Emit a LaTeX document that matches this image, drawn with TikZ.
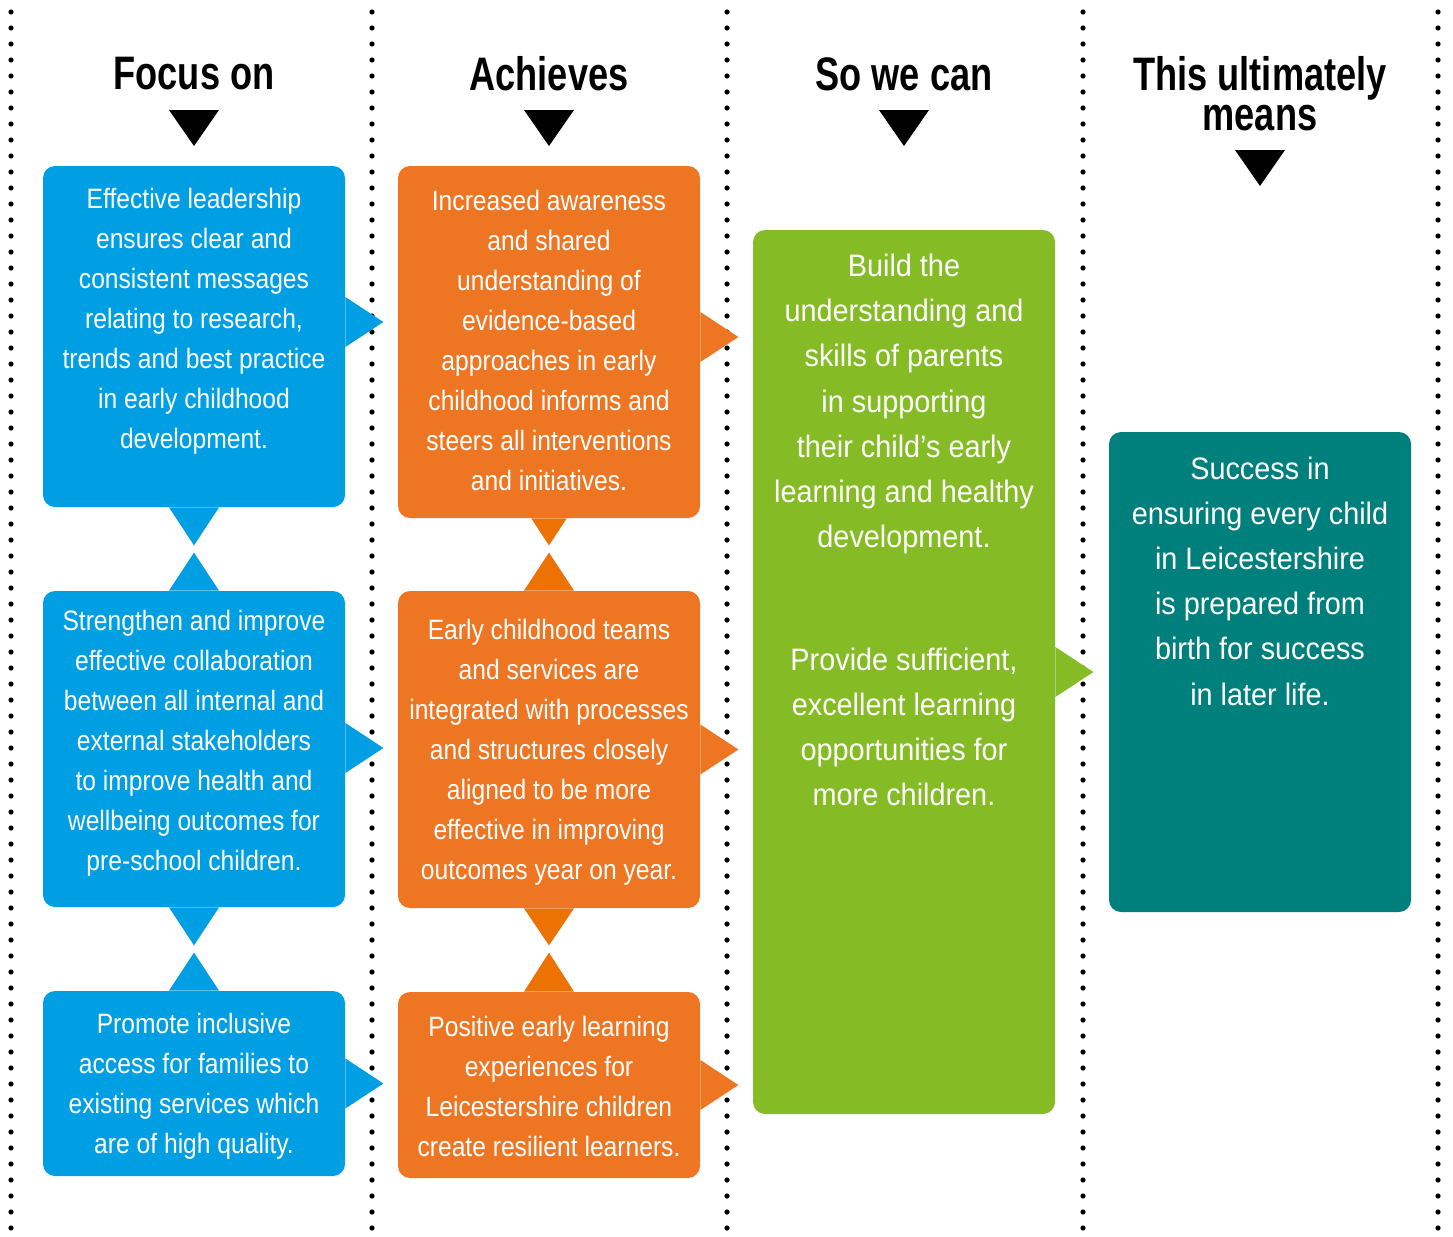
\documentclass[tikz,border=0pt]{standalone}
\usepackage{fontspec}
\setmainfont{Liberation Sans}[FakeStretch=0.88]
\newfontfamily\bigfont{Liberation Sans}[FakeStretch=0.93]
\newfontfamily\headfont{Liberation Sans}[FakeStretch=0.77]
\usetikzlibrary{calc}

\definecolor{focusblue}{RGB}{0,159,227}
\definecolor{achorange}{RGB}{238,118,35}
\definecolor{tiporange}{RGB}{236,114,4}
\definecolor{cangreen}{RGB}{133,188,37}
\definecolor{meansteal}{RGB}{0,128,125}

\begin{document}
\begin{tikzpicture}[x=0.5pt, y=-0.5pt,
    box/.style={rounded corners=6pt, minimum width=151pt, inner sep=0pt},
    body/.style={text=white, align=center, font=\fontsize{14}{20}\selectfont},
    bigbody/.style={text=white, align=center, font=\bigfont\fontsize{15.5}{22.6}\selectfont},
    head/.style={align=center, font=\headfont\bfseries\fontsize{23.5}{20}\selectfont}]
    \useasboundingbox (0,0) rectangle (1453,1237);
    % dotted column rules
    \foreach \x in {11,372,727,1083,1438}
        \foreach \y in {12,28,...,1236}
            \fill (\x,\y) circle (1.3pt);
    % column heads
    \node[head] (hfocus) at (194,74) {Focus on};
    \node[head] (hach) at (549,74) {Achieves};
    \node[head] (hcan) at (904,74) {So we can};
    \node[head] (hmeans) at (1260,94) {This ultimately\\means};
    \fill ($(hfocus.center)+(0,72)$) -- ++(-25,-36) -- ++(50,0) -- cycle;
    \fill ($(hach.center)+(0,72)$) -- ++(-25,-36) -- ++(50,0) -- cycle;
    \fill ($(hcan.center)+(0,72)$) -- ++(-25,-36) -- ++(50,0) -- cycle;
    \fill ($(hmeans.center)+(0,92)$) -- ++(-25,-36) -- ++(50,0) -- cycle;
    % boxes
    \node[box, fill=focusblue, minimum height=170.5pt] (fo1) at (194,336.5) {};
    \node[box, fill=focusblue, minimum height=158pt] (fo2) at (194,749) {};
    \node[box, fill=focusblue, minimum height=92.5pt] (fo3) at (194,1083.5) {};
    \node[box, fill=achorange, minimum height=176pt] (ac1) at (549,342) {};
    \node[box, fill=achorange, minimum height=158.5pt] (ac2) at (549,749.5) {};
    \node[box, fill=achorange, minimum height=93pt] (ac3) at (549,1085) {};
    \node[box, fill=cangreen, minimum height=442pt] (can) at (904,672) {};
    \node[box, fill=meansteal, minimum height=240pt] (means) at (1260,672) {};
    % down and up tips between boxes
    \fill[focusblue] (fo1.south) ++(-25,0) -- ++(25,38) -- ++(25,-38) -- cycle;
    \fill[focusblue] (fo2.north) ++(-25,0) -- ++(25,-38) -- ++(25,38) -- cycle;
    \fill[focusblue] (fo2.south) ++(-25,0) -- ++(25,38) -- ++(25,-38) -- cycle;
    \fill[focusblue] (fo3.north) ++(-25,0) -- ++(25,-38) -- ++(25,38) -- cycle;
    \fill[tiporange] (ac1.south) ++(-17.7,0) -- ++(17.7,27) -- ++(17.7,-27) -- cycle;
    \fill[tiporange] (ac2.north) ++(-25,0) -- ++(25,-38) -- ++(25,38) -- cycle;
    \fill[tiporange] (ac2.south) ++(-25,0) -- ++(25,37) -- ++(25,-37) -- cycle;
    \fill[tiporange] (ac3.north) ++(-25,0) -- ++(25,-39) -- ++(25,39) -- cycle;
    % tips pointing to the next column
    \fill[focusblue] ($(fo1.east)+(0,-14.5)$) ++(0,-25) -- ++(38,25) -- ++(-38,25) -- cycle;
    \fill[focusblue] ($(fo2.east)+(0,-1)$) ++(0,-25) -- ++(38,25) -- ++(-38,25) -- cycle;
    \fill[focusblue] (fo3.east) ++(0,-25) -- ++(38,25) -- ++(-38,25) -- cycle;
    \fill[achorange] ($(ac1.east)+(0,-5)$) ++(0,-25) -- ++(38,25) -- ++(-38,25) -- cycle;
    \fill[achorange] (ac2.east) ++(0,-25) -- ++(38,25) -- ++(-38,25) -- cycle;
    \fill[achorange] (ac3.east) ++(0,-25) -- ++(38,25) -- ++(-38,25) -- cycle;
    \fill[cangreen] (can.east) ++(0,-25) -- ++(38,25) -- ++(-38,25) -- cycle;
    % box texts
    \node[body] (fo1t) at (194,321) {Effective leadership\\ensures clear and\\consistent messages\\relating to research,\\trends and best practice\\in early childhood\\development.};
    \node[body] (fo2t) at (194,743) {Strengthen and improve\\effective collaboration\\between all internal and\\external stakeholders\\to improve health and\\wellbeing outcomes for\\pre-school children.};
    \node[body] (fo3t) at (194,1086) {Promote inclusive\\access for families to\\existing services which\\are of high quality.};
    \node[body] (ac1t) at (549,340) {Increased awareness\\and shared\\understanding of\\evidence-based\\approaches in early\\childhood informs and\\steers all interventions\\and initiatives.};
    \node[body] (ac2t) at (549,752) {Early childhood teams\\and services are\\integrated with processes\\and structures closely\\aligned to be more\\effective in improving\\outcomes year on year.};
    \node[body] (ac3t) at (549,1086) {Positive early learning\\experiences for\\Leicestershire children\\create resilient learners.};
    \node[bigbody] (cant1) at (904,404) {Build the\\understanding and\\skills of parents\\in supporting\\their child’s early\\learning and healthy\\development.};
    \node[bigbody] (cant2) at (904,727) {Provide sufficient,\\excellent learning\\opportunities for\\more children.};
    \node[bigbody] (meanst) at (1260,581) {Success in\\ensuring every child\\in Leicestershire\\is prepared from\\birth for success\\in later life.};
\end{tikzpicture}
\end{document}
